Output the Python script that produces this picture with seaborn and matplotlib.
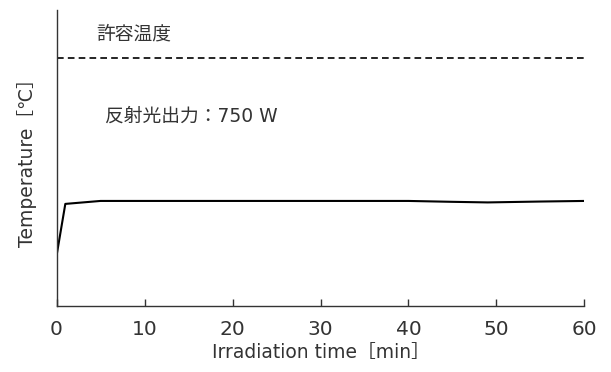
import matplotlib
matplotlib.use("Agg")
import matplotlib.pyplot as plt
import seaborn as sns
import pandas as pd

time_min = [0, 1, 5, 10, 20, 30, 40, 45, 49, 55, 60]
temperature = [16.9, 34.5, 35.5, 35.5, 35.5, 35.5, 35.5, 35.2, 35.0, 35.3, 35.5]
limit_temp = 83.8
x_ticks = [0, 10, 20, 30, 40, 50, 60]

sns.set_style("white")
FAM = ['DejaVu Sans', 'Noto Sans CJK JP']
plt.rcParams['font.family'] = FAM

df = pd.DataFrame({"time": time_min, "temp": temperature})

fig = plt.figure(figsize=(6.11, 3.72), dpi=100)
ax = fig.add_axes([0.0925, 0.1774, 0.8641, 0.7956])
sns.lineplot(data=df, x="time", y="temp", ax=ax, color="black", linewidth=1.5)
ax.axhline(limit_temp, color="black", linestyle=(0, (4, 2.5)), linewidth=1.2)

ax.set_xlim(0, 60)
ax.set_ylim(0, 100)
ax.set_xticks(x_ticks)
ax.set_yticks([])
ax.tick_params(axis="x", bottom=True, direction="in", length=5, width=1, colors="#333333",
               labelsize=14.5, pad=10, labelcolor="#333333")
for s in ["top", "right"]:
    ax.spines[s].set_visible(False)
for s in ["left", "bottom"]:
    ax.spines[s].set_color("#333333")
    ax.spines[s].set_linewidth(1)

ax.set_xlabel("Irradiation time［min］", fontsize=13.5, color="#333333", labelpad=3)
ax.set_ylabel("Temperature［℃］", fontsize=13.5, color="#333333", labelpad=14)

ax.text(4.5, 92, "許容温度", fontsize=13.5, color="#333333", va="center", ha="left")
ax.text(5.5, 64, "反射光出力：750 W", fontsize=13.5, color="#333333", va="center", ha="left")

fig.savefig("out.png", dpi=100)
